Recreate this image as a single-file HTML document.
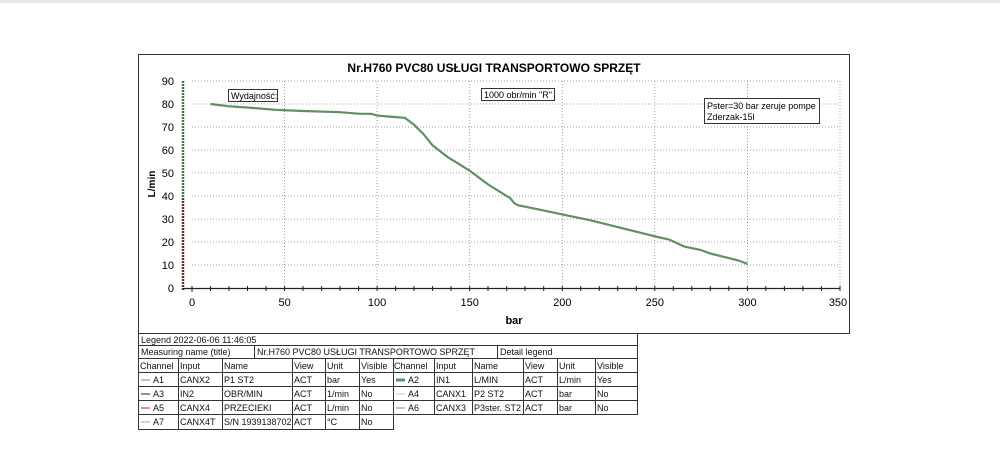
<!DOCTYPE html>
<html><head><meta charset="utf-8"><style>
body{margin:0;background:#fff;width:1000px;height:450px;overflow:hidden;font-family:"Liberation Sans",Arial,sans-serif}
</style></head><body>
<div style="position:absolute;left:0;top:0;width:1000px;height:3px;background:#e8e8e8"></div>
<svg width="1000" height="450" style="position:absolute;left:0;top:0" font-family="Liberation Sans, Arial, sans-serif">
<rect x="138.5" y="54.5" width="711" height="279" fill="#fff" stroke="#333"/>
<text x="494" y="72" font-size="12" font-weight="bold" text-anchor="middle">Nr.H760 PVC80 USŁUGI TRANSPORTOWO SPRZĘT</text>
<g stroke="#888" stroke-dasharray="1,2" stroke-width="0.8">
<line x1="192" x2="840" y1="81" y2="81"/><line x1="192" x2="840" y1="104" y2="104"/><line x1="192" x2="840" y1="127" y2="127"/><line x1="192" x2="840" y1="150" y2="150"/><line x1="192" x2="840" y1="173" y2="173"/><line x1="192" x2="840" y1="196" y2="196"/><line x1="192" x2="840" y1="219" y2="219"/><line x1="192" x2="840" y1="242" y2="242"/><line x1="192" x2="840" y1="265" y2="265"/>
<line y1="81" y2="288" x1="284.6" x2="284.6"/><line y1="81" y2="288" x1="377.1" x2="377.1"/><line y1="81" y2="288" x1="469.7" x2="469.7"/><line y1="81" y2="288" x1="562.3" x2="562.3"/><line y1="81" y2="288" x1="654.8" x2="654.8"/><line y1="81" y2="288" x1="747.4" x2="747.4"/><line y1="81" y2="288" x1="840" x2="840"/>
</g>
<line x1="183" y1="81" x2="183" y2="198" stroke="#3a7a4a" stroke-width="2.5" stroke-dasharray="2,1"/>
<line x1="183" y1="198" x2="183" y2="290" stroke="#6a2a2a" stroke-width="2.5" stroke-dasharray="2,1"/>
<line x1="183" y1="288.5" x2="840" y2="288.5" stroke="#222" stroke-width="1.2"/>
<g stroke="#222">
<line x1="192" x2="192" y1="286" y2="292"/><line x1="210.5" x2="210.5" y1="286" y2="291"/><line x1="229" x2="229" y1="286" y2="291"/><line x1="247.5" x2="247.5" y1="286" y2="291"/><line x1="266" x2="266" y1="286" y2="291"/><line x1="284.6" x2="284.6" y1="286" y2="291"/><line x1="303" x2="303" y1="286" y2="291"/><line x1="321.6" x2="321.6" y1="286" y2="291"/><line x1="340" x2="340" y1="286" y2="291"/><line x1="358.6" x2="358.6" y1="286" y2="291"/><line x1="377.1" x2="377.1" y1="286" y2="291"/><line x1="395.6" x2="395.6" y1="286" y2="291"/><line x1="414" x2="414" y1="286" y2="291"/><line x1="432.6" x2="432.6" y1="286" y2="291"/><line x1="451" x2="451" y1="286" y2="291"/><line x1="469.7" x2="469.7" y1="286" y2="291"/><line x1="488" x2="488" y1="286" y2="291"/><line x1="506.7" x2="506.7" y1="286" y2="291"/><line x1="525" x2="525" y1="286" y2="291"/><line x1="543.7" x2="543.7" y1="286" y2="291"/><line x1="562.3" x2="562.3" y1="286" y2="291"/><line x1="580.7" x2="580.7" y1="286" y2="291"/><line x1="599.3" x2="599.3" y1="286" y2="291"/><line x1="617.7" x2="617.7" y1="286" y2="291"/><line x1="636.3" x2="636.3" y1="286" y2="291"/><line x1="654.8" x2="654.8" y1="286" y2="291"/><line x1="673.3" x2="673.3" y1="286" y2="291"/><line x1="691.8" x2="691.8" y1="286" y2="291"/><line x1="710.3" x2="710.3" y1="286" y2="291"/><line x1="728.8" x2="728.8" y1="286" y2="291"/><line x1="747.4" x2="747.4" y1="286" y2="291"/><line x1="765.8" x2="765.8" y1="286" y2="291"/><line x1="784.4" x2="784.4" y1="286" y2="291"/><line x1="802.9" x2="802.9" y1="286" y2="291"/><line x1="821.4" x2="821.4" y1="286" y2="291"/><line x1="840" x2="840" y1="286" y2="291"/>
</g>
<g font-size="11" text-anchor="end">
<text x="174" y="85">90</text><text x="174" y="108">80</text><text x="174" y="131">70</text><text x="174" y="154">60</text><text x="174" y="177">50</text><text x="174" y="200">40</text><text x="174" y="223">30</text><text x="174" y="246">20</text><text x="174" y="269">10</text><text x="174" y="292">0</text>
</g>
<g font-size="11" text-anchor="middle">
<text x="192" y="306">0</text><text x="284.6" y="306">50</text><text x="377.1" y="306">100</text><text x="469.7" y="306">150</text><text x="562.3" y="306">200</text><text x="654.8" y="306">250</text><text x="747.4" y="306">300</text><text x="838" y="306">350</text>
</g>
<text x="514" y="324" font-size="11" font-weight="bold" text-anchor="middle">bar</text>
<text transform="translate(155,184) rotate(-90)" font-size="10" font-weight="bold" text-anchor="middle">L/min</text>
<polyline fill="none" stroke="#5e9161" stroke-width="2.2" stroke-linejoin="round" points="210.5,104 229,106.3 247.5,107.5 275.3,109.8 303,111 340,112.2 358.6,113.7 371.6,113.9 377.1,115.5 395.6,117.1 404.8,117.8 414,124.7 423.3,133.9 432.6,145.4 447.4,156.9 469.7,170.7 488.2,184.5 510.4,198.3 514.1,202.9 517.8,205.2 534.5,208.6 562.3,214.4 590,220.2 654.8,236.3 669.6,239.7 684.4,246.6 701,250.1 710.3,253.5 728.8,258.1 738.1,260.4 747.4,263.9"/>
<rect x="228.5" y="89.5" width="49" height="12" fill="#fff" stroke="#333"/>
<text x="231" y="99" font-size="9">Wydajność:</text>
<rect x="481.5" y="88.5" width="73" height="12" fill="#fff" stroke="#333"/>
<text x="484" y="98" font-size="9">1000 obr/min "R"</text>
<rect x="704.5" y="98.5" width="115" height="25" fill="#fff" stroke="#333"/>
<text x="707" y="109" font-size="9">Pster=30 bar zeruje pompe</text>
<text x="707" y="120" font-size="9">Zderzak-15l</text>
<g fill="none" stroke="#333" stroke-width="1">
<rect x="138.5" y="333.5" width="499" height="12" fill="#fff"/>
<rect x="138.5" y="345.5" width="499" height="13" fill="#fff"/>
<line x1="254.5" x2="254.5" y1="345" y2="358"/><line x1="497.5" x2="497.5" y1="345" y2="358"/>
<rect x="138.5" y="358.5" width="499" height="56"/>
<line x1="138" x2="637" y1="372.5" y2="372.5"/><line x1="138" x2="637" y1="386.5" y2="386.5"/><line x1="138" x2="637" y1="400.5" y2="400.5"/>
<polyline points="138.5,414 138.5,429.5 393.5,429.5 393.5,414"/>
<g><line x1="178.5" x2="178.5" y1="358" y2="429"/><line x1="222.5" x2="222.5" y1="358" y2="429"/><line x1="292.5" x2="292.5" y1="358" y2="429"/><line x1="325.5" x2="325.5" y1="358" y2="429"/><line x1="359.5" x2="359.5" y1="358" y2="429"/><line x1="393.5" x2="393.5" y1="358" y2="429"/>
<line x1="434.5" x2="434.5" y1="358" y2="414"/><line x1="472.5" x2="472.5" y1="358" y2="414"/><line x1="523.5" x2="523.5" y1="358" y2="414"/><line x1="557.5" x2="557.5" y1="358" y2="414"/><line x1="595.5" x2="595.5" y1="358" y2="414"/></g>
</g>
<g stroke-width="1">
<line x1="141" x2="150" y1="380" y2="380" stroke="#6a9a6a"/>
<line x1="141" x2="150" y1="394" y2="394" stroke="#222"/>
<line x1="141" x2="150" y1="408" y2="408" stroke="#a33"/>
<line x1="141" x2="150" y1="422" y2="422" stroke="#aa9"/>
<line x1="396" x2="405" y1="380" y2="380" stroke="#5e9161" stroke-width="3"/>
<line x1="396" x2="405" y1="394" y2="394" stroke="#cc9"/>
<line x1="396" x2="405" y1="408" y2="408" stroke="#6a9a8a"/>
</g>
<g font-size="9" fill="#111">
<text x="141" y="343">Legend  2022-06-06  11:46:05</text>
<text x="141" y="355">Measuring name (title)</text>
<text x="257" y="355">Nr.H760 PVC80 USŁUGI TRANSPORTOWO SPRZĘT</text>
<text x="500" y="355">Detail legend</text>
<text x="140" y="369">Channel</text><text x="180" y="369">Input</text><text x="224" y="369">Name</text><text x="294" y="369">View</text><text x="327" y="369">Unit</text><text x="361" y="369">Visible</text>
<text x="394" y="369">Channel</text><text x="436" y="369">Input</text><text x="474" y="369">Name</text><text x="525" y="369">View</text><text x="559" y="369">Unit</text><text x="597" y="369">Visible</text>
<text x="153" y="383">A1</text><text x="180" y="383">CANX2</text><text x="224" y="383">P1 ST2</text><text x="294" y="383">ACT</text><text x="327" y="383">bar</text><text x="361" y="383">Yes</text>
<text x="408" y="383">A2</text><text x="436" y="383">IN1</text><text x="474" y="383">L/MIN</text><text x="525" y="383">ACT</text><text x="559" y="383">L/min</text><text x="597" y="383">Yes</text>
<text x="153" y="397">A3</text><text x="180" y="397">IN2</text><text x="224" y="397">OBR/MIN</text><text x="294" y="397">ACT</text><text x="327" y="397">1/min</text><text x="361" y="397">No</text>
<text x="408" y="397">A4</text><text x="436" y="397">CANX1</text><text x="474" y="397">P2 ST2</text><text x="525" y="397">ACT</text><text x="559" y="397">bar</text><text x="597" y="397">No</text>
<text x="153" y="411">A5</text><text x="180" y="411">CANX4</text><text x="224" y="411">PRZECIEKI</text><text x="294" y="411">ACT</text><text x="327" y="411">L/min</text><text x="361" y="411">No</text>
<text x="408" y="411">A6</text><text x="436" y="411">CANX3</text><text x="474" y="411">P3ster. ST2</text><text x="525" y="411">ACT</text><text x="559" y="411">bar</text><text x="597" y="411">No</text>
<text x="153" y="425">A7</text><text x="180" y="425">CANX4T</text><text x="224" y="425">S/N 1939138702</text><text x="294" y="425">ACT</text><text x="327" y="425">°C</text><text x="361" y="425">No</text>
</g>
</svg>
</body></html>
